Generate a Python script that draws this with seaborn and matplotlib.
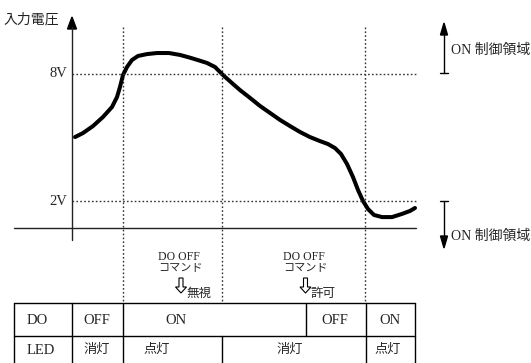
import matplotlib
matplotlib.use("Agg")
import matplotlib.pyplot as plt
import seaborn as sns
import pandas as pd
from matplotlib.patches import Polygon, FancyArrow

# ---------------- data ----------------
time = [75, 83, 93, 103, 112, 117, 120, 123, 127, 132, 138, 147, 157, 169, 180, 190,
        199, 207, 215, 223, 232, 240, 250, 260, 270, 280, 290, 300, 310, 320, 328,
        335, 341, 347, 353, 358, 363, 368, 374, 382, 392, 402, 410, 415]
voltage = [5.02, 5.21, 5.54, 5.97, 6.44, 6.91, 7.39, 7.95, 8.33, 8.66, 8.85, 8.94,
           8.99, 8.99, 8.90, 8.77, 8.64, 8.52, 8.33, 7.95, 7.57, 7.24, 6.87, 6.49,
           6.16, 5.83, 5.54, 5.26, 5.02, 4.83, 4.69, 4.50, 4.22, 3.75, 3.13, 2.52,
           2.00, 1.62, 1.34, 1.24, 1.24, 1.39, 1.53, 1.67]
threshold_values = [8, 2]
threshold_labels = ["8V", "2V"]
event_times = [123, 222, 365]
y_axis_label = "入力電圧"
region_label = "ON 制御領域"
command_labels = ["DO OFF", "コマンド"]
command_results = ["無視", "許可"]
row_labels = ["DO", "LED"]
do_states = ["OFF", "ON", "OFF", "ON"]
do_bounds = [72, 123, 306, 366, 415]
do_text_x = [97, 176, 335, 390]
led_states = ["消灯", "点灯", "消灯", "点灯"]
led_bounds = [72, 123, 222, 366, 415]
led_text_x = [97, 157, 290, 388]

# ---------------- style ----------------
sns.set_style("white")
SERIF = ["Liberation Serif", "Noto Sans CJK JP"]
CJK = ["Noto Sans CJK JP", "DejaVu Sans"]
plt.rcParams["font.family"] = CJK

W, H = 531, 363
fig = plt.figure(figsize=(W / 100, H / 100), dpi=100)
ax = fig.add_axes([0, 0, 1, 1])          # pixel-space decoration axes
ax.set_xlim(0, W)
ax.set_ylim(H, 0)
ax.axis("off")

# voltage axes sharing the same horizontal time scale
V_PX = 21.17
v_top = 2 + 201 / V_PX
v_bot = 2 - (H - 201) / V_PX
axv = fig.add_axes([0, 0, 1, 1], facecolor="none")

dot = (0, (1.2, 1.6))
gray = "#333333"

# vertical event lines
for t in event_times:
    ax.plot([t, t], [27, 301], color=gray, lw=1.0, ls=dot)

# curve
df = pd.DataFrame({"t": time, "v": voltage})
sns.lineplot(data=df, x="t", y="v", ax=axv, color="black", lw=2.9, sort=False,
             estimator=None, solid_capstyle="round", solid_joinstyle="round")
axv.set_xlim(0, W)
axv.set_ylim(v_bot, v_top)
axv.axis("off")

# threshold lines + labels
for v, lab in zip(threshold_values, threshold_labels):
    axv.plot([72, 416], [v, v], color=gray, lw=1.0, ls=dot)
    axv.text(67, v, lab, ha="right", va="center", fontsize=10.5, family=SERIF)

# axes lines
ax.plot([14, 416], [228, 228], color="#222222", lw=1.0)
ax.plot([72, 72], [27, 240], color="#222222", lw=1.0)
ax.add_patch(Polygon([[72, 17], [67.5, 29], [76.5, 29]], closed=True, color="black"))
ax.text(3, 20, y_axis_label, ha="left", va="center", fontsize=10, color="#222222")

# right side control-region arrows
ax.plot([444, 444], [73, 33], color="black", lw=1.0)
ax.plot([440, 448], [73, 73], color="black", lw=1.0)
ax.add_patch(Polygon([[444, 23], [440.5, 35], [447.5, 35]], closed=True, color="black"))
ax.text(451, 50, region_label, ha="left", va="center", fontsize=10, family=SERIF)

ax.plot([444, 444], [201, 238], color="black", lw=1.0)
ax.plot([440, 448], [201, 201], color="black", lw=1.0)
ax.add_patch(Polygon([[444, 248], [440.5, 236], [447.5, 236]], closed=True, color="black"))
ax.text(451, 236, region_label, ha="left", va="center", fontsize=10, family=SERIF)

# command annotations
for x0, ax_x, res in zip([158, 283], [181, 305.5], command_results):
    ax.text(x0, 257, command_labels[0], ha="left", va="center", fontsize=8.5, family=SERIF)
    ax.text(x0, 268, command_labels[1], ha="left", va="center", fontsize=8)
    ax.add_patch(FancyArrow(ax_x, 278, 0, 15, width=4, head_width=11, head_length=6,
                            length_includes_head=True, fc="white", ec="black", lw=0.8))
    ax.text(ax_x + 5, 293, res, ha="left", va="center", fontsize=9)

# table
tc = "black"
ax.plot([14, 415], [303, 303], color=tc, lw=1.0)
ax.plot([14, 415], [336, 336], color=tc, lw=1.0)
for x in [14, 72, 123, 366, 415]:
    ax.plot([x, x], [303, 363], color=tc, lw=1.0)
ax.plot([306, 306], [303, 336], color=tc, lw=1.0)
ax.plot([222, 222], [336, 363], color=tc, lw=1.0)

ax.text(27, 320, row_labels[0], ha="left", va="center", fontsize=10.5, family=SERIF)
ax.text(27, 350, row_labels[1], ha="left", va="center", fontsize=10.5, family=SERIF)
for x, s in zip(do_text_x, do_states):
    ax.text(x, 320, s, ha="center", va="center", fontsize=10.5, family=SERIF)
for x, s in zip(led_text_x, led_states):
    ax.text(x, 349, s, ha="center", va="center", fontsize=9.5)

fig.savefig("out.png", dpi=100)
